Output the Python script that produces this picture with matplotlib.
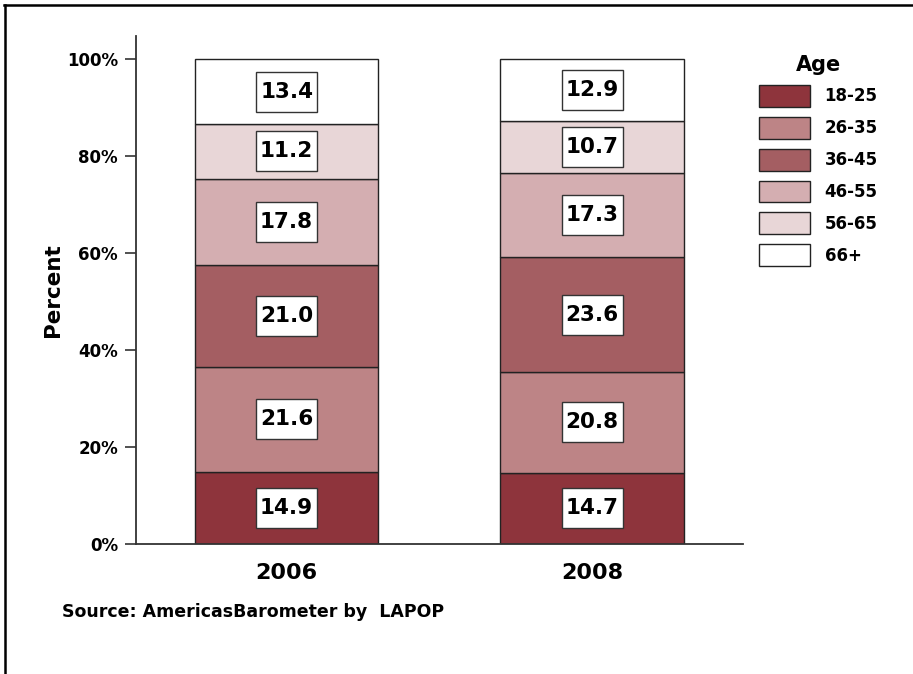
import matplotlib
matplotlib.use("Agg")
import matplotlib.pyplot as plt
from matplotlib.lines import Line2D
from matplotlib.patches import Rectangle
import matplotlib.transforms as mtransforms
import numpy as np

years = ["2006", "2008"]
age_groups = ["18-25", "26-35", "36-45", "46-55", "56-65", "66+"]
values_2006 = [14.9, 21.6, 21.0, 17.8, 11.2, 13.4]
values_2008 = [14.7, 20.8, 23.6, 17.3, 10.7, 12.9]
colors = ["#8E343C", "#BD8486", "#A45E62", "#D4AEB1", "#E8D6D7", "#FFFFFF"]
yticks = [0, 20, 40, 60, 80, 100]
ytick_labels = ["0%", "20%", "40%", "60%", "80%", "100%"]

plt.rcParams['font.family'] = ['DejaVu Sans']
plt.rcParams['font.weight'] = 'bold'

fig = plt.figure(figsize=(9.13, 6.74), dpi=100)
ax = fig.add_axes([136/913, 1-544/674, (743-136)/913, (544-36)/674])

data = np.array([values_2006, values_2008])
x = np.arange(len(years))
bottom = np.zeros(len(years))
BW, BH = 61, 40  # label box size in pixels
for i, grp in enumerate(age_groups):
    vals = data[:, i]
    ax.bar(x, vals, width=0.6, bottom=bottom, color=colors[i],
           edgecolor="#222222", linewidth=1.0, label=grp)
    for xi, v, b in zip(x, vals, bottom):
        yc = b + v/2
        tr = mtransforms.Affine2D() + mtransforms.ScaledTranslation(xi, yc, ax.transData)
        ax.add_patch(Rectangle((-BW/2, -BH/2), BW, BH, transform=tr,
                               facecolor="white", edgecolor="#333333",
                               linewidth=1.0, zorder=3))
        ax.text(xi, yc, f"{v:.1f}", ha="center", va="center",
                fontsize=15.5, fontweight="bold", zorder=4)
    bottom += vals

ax.set_xlim(-0.493, 1.494)
ax.set_ylim(0, 104.7)
ax.set_xticks(x)
ax.set_xticklabels(years, fontsize=16, fontweight="bold")
ax.tick_params(axis="x", length=0, pad=14)
ax.set_yticks(yticks)
ax.set_yticklabels(ytick_labels, fontsize=12, fontweight="bold")
ax.tick_params(axis="y", direction="out", length=8, width=1.2, color="#333333", pad=5)
for s in ["top", "right"]:
    ax.spines[s].set_visible(False)
for s in ["left", "bottom"]:
    ax.spines[s].set_color("#333333")
    ax.spines[s].set_linewidth(1.3)
ax.set_ylabel("Percent", fontsize=15.5, fontweight="bold", labelpad=3)

leg = fig.legend(loc="upper left", bbox_to_anchor=(752/913, 1-48/674),
                 title="Age", title_fontproperties={"size": 15, "weight": "bold"},
                 fontsize=12, frameon=False, handlelength=3.06, handleheight=1.65,
                 labelspacing=0.6, handletextpad=0.9, borderaxespad=0)
for t in leg.get_texts():
    t.set_fontweight("bold")

fig.text(62/913, 1-612/674, "Source: AmericasBarometer by  LAPOP",
         fontsize=12.5, fontweight="bold", ha="left", va="center")

fig.add_artist(Line2D([4/913, 1.0], [1-4.5/674, 1-4.5/674], transform=fig.transFigure,
                      color="black", linewidth=1.8))
fig.add_artist(Line2D([4.5/913, 4.5/913], [0, 1-4.5/674], transform=fig.transFigure,
                      color="black", linewidth=1.8))

fig.savefig("out.png", dpi=100)
